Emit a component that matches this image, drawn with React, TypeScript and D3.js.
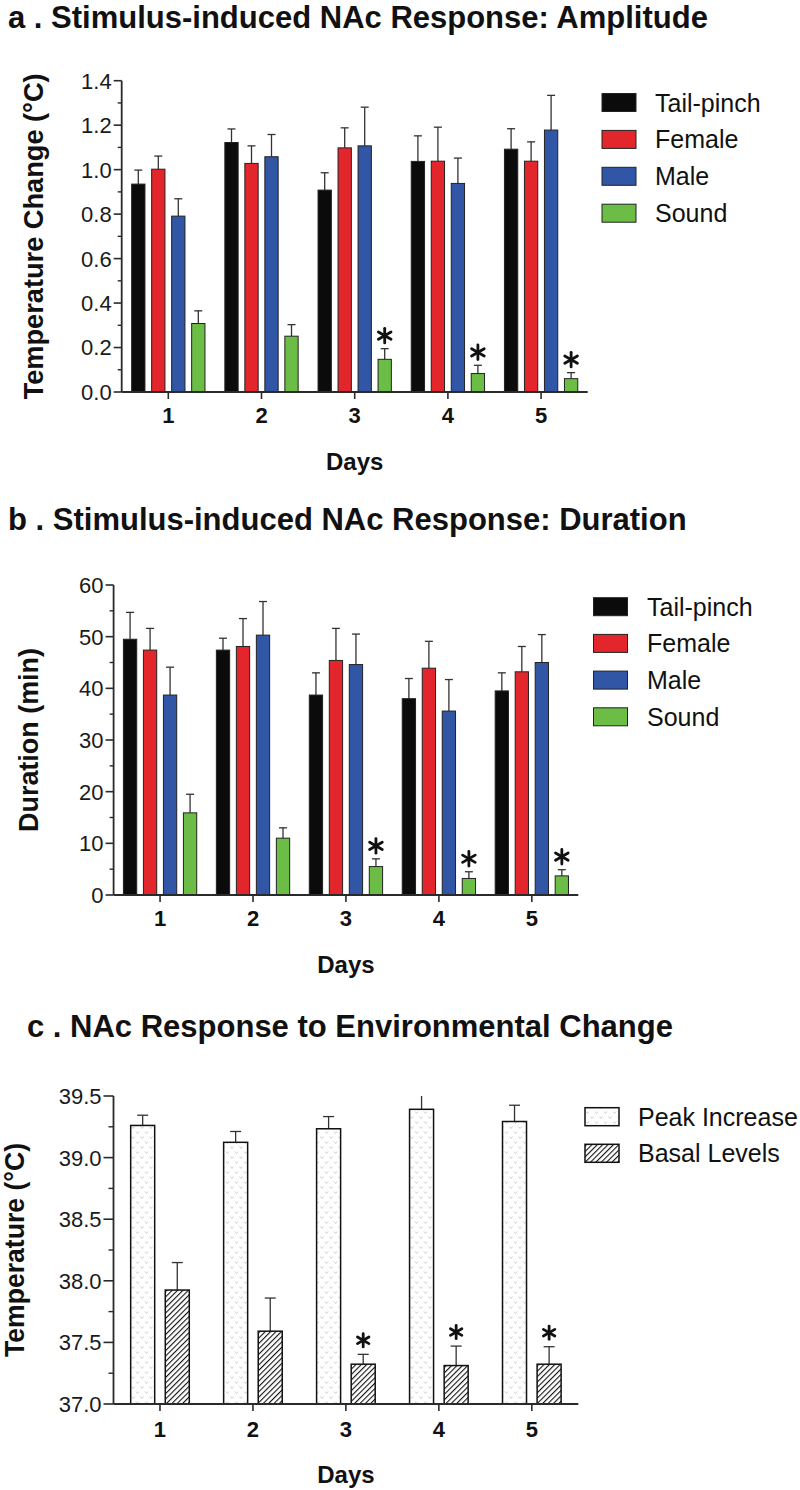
import React from 'react';
import * as d3 from 'd3';

// ---------- data ----------
const days = ['1', '2', '3', '4', '5'];
const groupNames = ['Tail-pinch', 'Female', 'Male', 'Sound'];
const groupColors = ['#0b0b0b', '#e3262b', '#3156a5', '#6bbd45'];

// Panel a: amplitude (°C), mean and SEM
const ampTail = [0.935, 1.122, 0.908, 1.037, 1.092];
const ampTailErr = [0.063, 0.061, 0.078, 0.115, 0.092];
const ampFemale = [1.002, 1.028, 1.098, 1.038, 1.038];
const ampFemaleErr = [0.059, 0.079, 0.09, 0.153, 0.087];
const ampMale = [0.791, 1.058, 1.107, 0.938, 1.178];
const ampMaleErr = [0.078, 0.1, 0.174, 0.114, 0.156];
const ampSound = [0.308, 0.251, 0.147, 0.083, 0.06];
const ampSoundErr = [0.057, 0.052, 0.048, 0.037, 0.027];

// Panel b: duration (min)
const durTail = [49.5, 47.4, 38.7, 38.0, 39.5];
const durTailErr = [5.2, 2.3, 4.3, 3.9, 3.5];
const durFemale = [47.4, 48.1, 45.4, 43.9, 43.2];
const durFemaleErr = [4.2, 5.4, 6.2, 5.2, 4.9];
const durMale = [38.7, 50.3, 44.6, 35.6, 45.0];
const durMaleErr = [5.4, 6.5, 5.9, 6.1, 5.4];
const durSound = [15.9, 11.0, 5.5, 3.2, 3.7];
const durSoundErr = [3.6, 2.0, 1.5, 1.3, 1.2];

// Panel c: temperature (°C)
const envNames = ['Peak Increase', 'Basal Levels'];
const envPeak = [39.261, 39.124, 39.234, 39.392, 39.293];
const envPeakErr = [0.083, 0.088, 0.099, 0.11, 0.132];
const envBasal = [37.925, 37.591, 37.323, 37.312, 37.323];
const envBasalErr = [0.223, 0.269, 0.08, 0.158, 0.142];

const sigDays = ['3', '4', '5'];

const FONT = "'Liberation Sans', Arial, Helvetica, sans-serif";
const AXIS = '#2a2a2a';

type Series = { name: string; mean: number[]; err: number[]; fill: string; sig?: boolean };

type PanelCfg = {
  title: string; titleX: number; titleY: number;
  axisX: number; axisEnd: number; yTop: number; yBottom: number;
  domain: [number, number]; major: number; minor: number; fmt: string; tickLen: number;
  yTitle: string; yTitleX: number; yTitleLen: number;
  groupHalf: number; padInner: number; capW: number; barStroke: string; barStrokeW: number;
  legendX: number; legendY: number; legendStep: number; legendTextX: number;
  dayLabelDy: number; daysDy: number; starR: number; starGap: number;
};

function Star({ cx, cy, r }: { cx: number; cy: number; r: number }) {
  const angles = [90, 30, -30];
  return (
    <g>
      {angles.map((a) => {
        const rad = (a * Math.PI) / 180;
        const dx = r * Math.cos(rad), dy = r * Math.sin(rad);
        return (
          <line key={a} x1={cx - dx} y1={cy - dy} x2={cx + dx} y2={cy + dy}
            stroke="#111" strokeWidth={2.8} strokeLinecap="round" />
        );
      })}
    </g>
  );
}

function Panel({ cfg, series }: { cfg: PanelCfg; series: Series[] }) {
  const x = d3.scaleBand<string>().domain(days).range([cfg.axisX, cfg.axisEnd]).paddingInner(0).paddingOuter(0);
  const inner = d3.scaleBand<string>().domain(series.map((s) => s.name))
    .range([-cfg.groupHalf, cfg.groupHalf]).paddingInner(cfg.padInner).paddingOuter(0);
  const y = d3.scaleLinear().domain(cfg.domain).range([cfg.yBottom, cfg.yTop]);
  const [d0, d1] = cfg.domain;
  const majors = d3.range(d0, d1 + cfg.major / 2, cfg.major);
  const minors = d3.range(d0 + cfg.minor, d1, cfg.major);
  const fmt = d3.format(cfg.fmt);
  const center = (d: string) => (x(d) as number) + x.bandwidth() / 2;
  const bw = inner.bandwidth();

  return (
    <g>
      <text x={cfg.titleX} y={cfg.titleY} fontFamily={FONT} fontWeight="bold" fontSize={31} fill="#111">
        {cfg.title}
      </text>
      {/* bars */}
      {series.map((s) => (
        <g key={s.name}>
          {days.map((d, i) => {
            const bx = center(d) + (inner(s.name) as number);
            const top = y(s.mean[i]);
            const errV = s.mean[i] + s.err[i];
            const clipped = errV > d1;
            const eTop = y(Math.min(errV, d1));
            const cx = bx + bw / 2;
            return (
              <g key={d}>
                <line x1={cx} x2={cx} y1={top} y2={eTop} stroke="#333" strokeWidth={1.3} />
                {!clipped && (
                  <line x1={cx - cfg.capW / 2} x2={cx + cfg.capW / 2} y1={eTop} y2={eTop} stroke="#333" strokeWidth={1.3} />
                )}
                <rect x={bx} y={top} width={bw} height={cfg.yBottom - top} fill={s.fill}
                  stroke={cfg.barStroke} strokeWidth={cfg.barStrokeW} />
                {s.sig && sigDays.includes(d) && <Star cx={cx} cy={eTop - cfg.starGap} r={cfg.starR} />}
              </g>
            );
          })}
        </g>
      ))}
      {/* y axis */}
      <line x1={cfg.axisX} x2={cfg.axisX} y1={cfg.yTop} y2={cfg.yBottom} stroke={AXIS} strokeWidth={1.8} />
      {majors.map((v) => (
        <g key={'M' + v}>
          <line x1={cfg.axisX - cfg.tickLen} x2={cfg.axisX} y1={y(v)} y2={y(v)} stroke={AXIS} strokeWidth={1.6} />
          <text x={cfg.axisX - cfg.tickLen - 2} y={y(v)} dy="0.36em" textAnchor="end"
            fontFamily={FONT} fontSize={22} fill="#1a1a1a">{fmt(v)}</text>
        </g>
      ))}
      {minors.map((v) => (
        <line key={'m' + v} x1={cfg.axisX - cfg.tickLen / 2} x2={cfg.axisX} y1={y(v)} y2={y(v)} stroke={AXIS} strokeWidth={1.4} />
      ))}
      <text transform={`translate(${cfg.yTitleX},${(cfg.yTop + cfg.yBottom) / 2}) rotate(-90)`} textAnchor="middle"
        fontFamily={FONT} fontWeight="bold" fontSize={28} fill="#111"
        textLength={cfg.yTitleLen} lengthAdjust="spacingAndGlyphs">{cfg.yTitle}</text>
      {/* x axis */}
      <line x1={cfg.axisX} x2={cfg.axisEnd} y1={cfg.yBottom} y2={cfg.yBottom} stroke={AXIS} strokeWidth={1.8} />
      {days.map((d) => (
        <g key={'t' + d}>
          <line x1={center(d)} x2={center(d)} y1={cfg.yBottom} y2={cfg.yBottom + 7} stroke={AXIS} strokeWidth={1.6} />
          <text x={center(d)} y={cfg.yBottom + cfg.dayLabelDy} textAnchor="middle" fontFamily={FONT}
            fontWeight="bold" fontSize={22} fill="#111">{d}</text>
        </g>
      ))}
      <text x={(cfg.axisX + cfg.axisEnd) / 2} y={cfg.yBottom + cfg.daysDy} textAnchor="middle" fontFamily={FONT}
        fontWeight="bold" fontSize={24} fill="#111">Days</text>
      {/* legend */}
      {series.map((s, i) => {
        const ly = cfg.legendY + i * cfg.legendStep;
        return (
          <g key={'l' + s.name}>
            <rect x={cfg.legendX} y={ly} width={34} height={18} fill={s.fill} stroke={cfg.barStroke} strokeWidth={cfg.barStrokeW} />
            <text x={cfg.legendTextX} y={ly + 18} fontFamily={FONT} fontSize={25} fill="#111">{s.name}</text>
          </g>
        );
      })}
    </g>
  );
}

const cfgA: PanelCfg = {
  title: 'a . Stimulus-induced NAc Response: Amplitude', titleX: 8, titleY: 28,
  axisX: 121.7, axisEnd: 587.7, yTop: 80.7, yBottom: 392,
  domain: [0, 1.4], major: 0.2, minor: 0.1, fmt: '.1f', tickLen: 8,
  yTitle: 'Temperature Change (°C)', yTitleX: 43, yTitleLen: 326,
  groupHalf: 36.65, padInner: 0.335, capW: 8, barStroke: '#222', barStrokeW: 1,
  legendX: 602, legendY: 93.5, legendStep: 36.9, legendTextX: 655,
  dayLabelDy: 31, daysDy: 78, starR: 7.3, starGap: 13,
};
const cfgB: PanelCfg = {
  title: 'b . Stimulus-induced NAc Response: Duration', titleX: 8, titleY: 530,
  axisX: 113.6, axisEnd: 578.3, yTop: 585, yBottom: 895,
  domain: [0, 60], major: 10, minor: 5, fmt: 'd', tickLen: 8,
  yTitle: 'Duration (min)', yTitleX: 38, yTitleLen: 184,
  groupHalf: 36.65, padInner: 0.335, capW: 8, barStroke: '#222', barStrokeW: 1,
  legendX: 593.5, legendY: 597.7, legendStep: 36.7, legendTextX: 647,
  dayLabelDy: 31, daysDy: 78, starR: 7.3, starGap: 13,
};
const cfgC: PanelCfg = {
  title: 'c . NAc Response to Environmental Change', titleX: 27, titleY: 1037,
  axisX: 113.5, axisEnd: 578.3, yTop: 1096, yBottom: 1404,
  domain: [37, 39.5], major: 0.5, minor: 0.25, fmt: '.1f', tickLen: 10,
  yTitle: 'Temperature (°C)', yTitleX: 24, yTitleLen: 214,
  groupHalf: 29.3, padInner: 0.306, capW: 11, barStroke: '#111', barStrokeW: 1.5,
  legendX: 585, legendY: 1107.7, legendStep: 36.6, legendTextX: 638,
  dayLabelDy: 33, daysDy: 79, starR: 6.6, starGap: 14,
};

const seriesA: Series[] = [
  { name: groupNames[0], mean: ampTail, err: ampTailErr, fill: groupColors[0] },
  { name: groupNames[1], mean: ampFemale, err: ampFemaleErr, fill: groupColors[1] },
  { name: groupNames[2], mean: ampMale, err: ampMaleErr, fill: groupColors[2] },
  { name: groupNames[3], mean: ampSound, err: ampSoundErr, fill: groupColors[3], sig: true },
];
const seriesB: Series[] = [
  { name: groupNames[0], mean: durTail, err: durTailErr, fill: groupColors[0] },
  { name: groupNames[1], mean: durFemale, err: durFemaleErr, fill: groupColors[1] },
  { name: groupNames[2], mean: durMale, err: durMaleErr, fill: groupColors[2] },
  { name: groupNames[3], mean: durSound, err: durSoundErr, fill: groupColors[3], sig: true },
];
const seriesC: Series[] = [
  { name: envNames[0], mean: envPeak, err: envPeakErr, fill: 'url(#peakPat)' },
  { name: envNames[1], mean: envBasal, err: envBasalErr, fill: 'url(#hatchPat)', sig: true },
];

export default function App() {
  return (
    <div>
      <style>{'body{margin:0;background:#fff}'}</style>
      <svg width={800} height={1490} style={{ display: 'block' }}>
        <defs>
          <pattern id="peakPat" width={9} height={10} patternUnits="userSpaceOnUse">
            <rect width={9} height={10} fill="#fff" />
            <path d="M1,1.5 L2.5,3.5 L4,1.5 M5.5,6.5 L7,8.5 L8.5,6.5" stroke="#c9c9c9" strokeWidth={0.9} fill="none" />
          </pattern>
          <pattern id="hatchPat" width={3.8} height={3.8} patternUnits="userSpaceOnUse" patternTransform="rotate(45)">
            <rect width={3.8} height={3.8} fill="#fff" />
            <line x1={0} y1={0} x2={0} y2={3.8} stroke="#111" strokeWidth={2.2} />
          </pattern>
        </defs>
        <rect width={800} height={1490} fill="#fff" />
        <Panel cfg={cfgA} series={seriesA} />
        <Panel cfg={cfgB} series={seriesB} />
        <Panel cfg={cfgC} series={seriesC} />
      </svg>
    </div>
  );
}
